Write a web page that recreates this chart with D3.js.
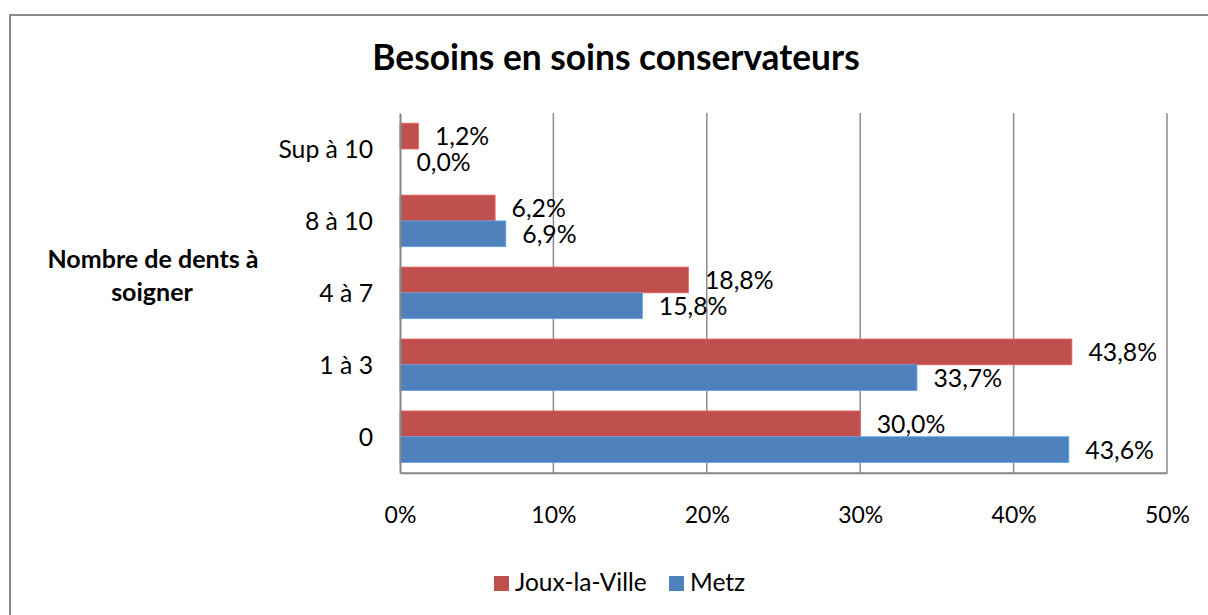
<!DOCTYPE html>
<html>
<head>
<meta charset="utf-8">
<script src="https://cdn.jsdelivr.net/npm/d3@7"></script>
<style>
  body { margin: 0; background: #fff; }
  text { font-family: Lato, "Open Sans", sans-serif; fill: #000; }
</style>
</head>
<body>
<div id="chart"></div>
<script>
// chart data
var categories = ['0', '1 à 3', '4 à 7', '8 à 10', 'Sup à 10'];
var seriesNames = ['Joux-la-Ville', 'Metz'];
var jouxValues = [30.0, 43.8, 18.8, 6.2, 1.2];
var metzValues = [43.6, 33.7, 15.8, 6.9, 0.0];
var tickValues = [0, 10, 20, 30, 40, 50];
var colors = ['#C0504D', '#4F81BD'];

var width = 1208, height = 615;
var svg = d3.select('#chart').append('svg')
  .attr('width', width)
  .attr('height', height);

// outer frame (runs off the right and bottom edges)
svg.append('rect')
  .attr('x', 10).attr('y', 15)
  .attr('width', 1220).attr('height', 620)
  .attr('fill', 'none')
  .attr('stroke', '#8a8a8a')
  .attr('stroke-width', 2);

// size a text so its width matches what the reference shows
function fitSize(str, weight, target) {
  var t = svg.append('text').attr('font-size', 100).attr('font-weight', weight).text(str);
  var w = t.node().getComputedTextLength();
  t.remove();
  return 100 * target / w;
}

// Lato is a bit wider than the original font, so nudge sizes up a little
var labelSize = fitSize('43,8%', 'normal', 66) * 1.04;
var catSize = fitSize('Sup à 10', 'normal', 91) * 1.04;
var tickSize = fitSize('10%', 'normal', 43) * 1.05;
var legendSize = fitSize('Joux-la-Ville', 'normal', 128) * 1.03;
var titleSize = fitSize('Besoins en soins conservateurs', 'bold', 478) * 1.02;
var yTitleSize = fitSize('Nombre de dents à', 'bold', 207) * 1.02;

var x = d3.scaleLinear().domain([0, 50]).range([400, 1167]);
var y = d3.scaleBand()
  .domain(categories.slice().reverse())
  .range([113, 472.7])
  .paddingInner(0.283)
  .paddingOuter(0.1415);
var y1 = d3.scaleBand().domain(seriesNames).range([0, y.bandwidth()]);

// gridlines
svg.append('g').selectAll('line')
  .data(tickValues.slice(1))
  .enter().append('line')
  .attr('x1', function(d) { return x(d); })
  .attr('x2', function(d) { return x(d); })
  .attr('y1', 113).attr('y2', 472.7)
  .attr('stroke', '#8c8c8c')
  .attr('stroke-width', 1.5);

// bars
var rows = categories.map(function(c, i) {
  return { cat: c, vals: [jouxValues[i], metzValues[i]] };
});
var groups = svg.append('g').selectAll('g')
  .data(rows)
  .enter().append('g')
  .attr('transform', function(d) { return 'translate(0,' + y(d.cat) + ')'; });

groups.selectAll('rect')
  .data(function(d) { return d.vals.map(function(v, j) { return { s: seriesNames[j], v: v, j: j }; }); })
  .enter().append('rect')
  .attr('x', x(0))
  .attr('y', function(d) { return y1(d.s); })
  .attr('width', function(d) { return x(d.v) - x(0); })
  .attr('height', y1.bandwidth())
  .attr('fill', function(d) { return colors[d.j]; })
  .attr('stroke', function(d) { return d.v > 0 ? d3.color(colors[d.j]).brighter(0.6) : 'none'; })
  .attr('stroke-width', 0.8);

groups.selectAll('text')
  .data(function(d) { return d.vals.map(function(v, j) { return { s: seriesNames[j], v: v }; }); })
  .enter().append('text')
  .attr('x', function(d) { return x(d.v) + 16.5; })
  .attr('y', function(d) { return y1(d.s) + y1.bandwidth() / 2; })
  .attr('dy', '0.36em')
  .attr('font-size', labelSize)
  .text(function(d) { return d.v.toFixed(1).replace('.', ',') + '%'; });

// axes
var xAxis = d3.axisBottom(x).tickValues(tickValues).tickSize(0).tickPadding(0)
  .tickFormat(function(d) { return d + '%'; });
var gx = svg.append('g').attr('transform', 'translate(0,472.7)').call(xAxis);
gx.select('.domain').attr('stroke', '#868686').attr('stroke-width', 2);
gx.selectAll('text')
  .attr('font-size', tickSize)
  .attr('font-family', null)
  .attr('fill', '#000')
  .attr('dy', null)
  .attr('y', 50.5);

var yAxis = d3.axisLeft(y).tickSize(0).tickPadding(27);
var gy = svg.append('g').attr('transform', 'translate(400,0)').call(yAxis);
gy.select('.domain').attr('stroke', '#868686').attr('stroke-width', 2);
gy.selectAll('text')
  .attr('font-size', catSize)
  .attr('font-family', null)
  .attr('fill', '#000')
  .attr('dy', '0.36em');

// titles
svg.append('text')
  .attr('x', 616).attr('y', 69.5)
  .attr('text-anchor', 'middle')
  .attr('font-weight', 'bold')
  .attr('font-size', titleSize)
  .text('Besoins en soins conservateurs');

var yTitle = svg.append('text')
  .attr('text-anchor', 'middle')
  .attr('font-weight', 'bold')
  .attr('font-size', yTitleSize);
yTitle.append('tspan').attr('x', 153).attr('y', 268).text('Nombre de dents à');
yTitle.append('tspan').attr('x', 152).attr('y', 301).text('soigner');

// legend
var legendX = [494, 669];
var legend = svg.append('g').selectAll('g')
  .data(seriesNames)
  .enter().append('g')
  .attr('transform', function(d, i) { return 'translate(' + legendX[i] + ',576)'; });
legend.append('rect')
  .attr('width', 15).attr('height', 15)
  .attr('fill', function(d, i) { return colors[i]; });
legend.append('text')
  .attr('x', 21).attr('y', 15)
  .attr('font-size', legendSize)
  .text(function(d) { return d; });
</script>
</body>
</html>
